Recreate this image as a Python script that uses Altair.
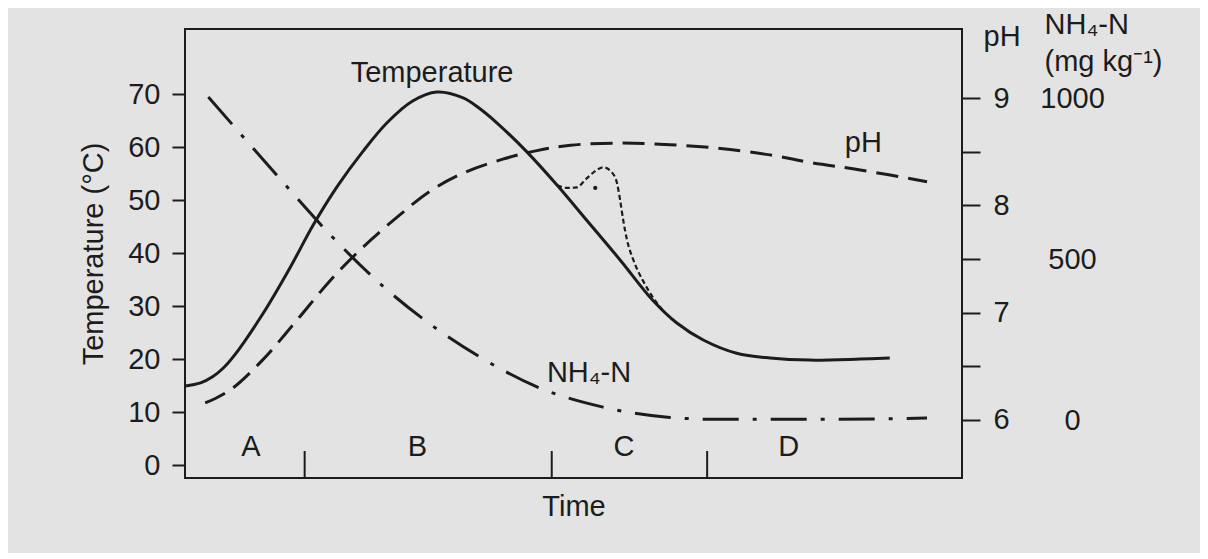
import altair as alt
import pandas as pd

FONT = "Liberation Sans"
INK = "#1c1c1c"
BG = "#e3e3e3"

# ---- data (time in arbitrary units 0-100) ----
temp_t = [0, 2.0, 3.6, 5.0, 6.2, 10.0, 13.5, 16.5, 19.6, 22.9, 26.0, 29.3, 32.4, 35.8, 38.0,
          40.2, 44.0, 47.9, 51.7, 56.0, 60.2, 63.3, 66.7, 71.0, 75.3, 80.4, 86.9, 90.7]
temp_v = [14.9, 15.5, 16.7, 18.4, 20.4, 28.5, 37.2, 45.3, 52.6, 59.2, 64.6, 68.7, 70.4, 69.3, 67.2,
          64.5, 59.1, 52.8, 46.2, 38.7, 31.1, 26.8, 23.6, 21.1, 20.2, 19.8, 20.0, 20.2]

loop_t = [47.9, 49.2, 50.4, 51.7, 53.0, 53.8, 54.9, 55.6, 56.0, 56.4, 56.9, 57.7, 58.9, 60.2, 61.5]
loop_v = [52.8, 52.3, 52.4, 54.1, 55.7, 56.2, 55.3, 53.2, 50.0, 46.2, 42.4, 38.7, 34.9, 31.7, 29.2]

dot_t = [52.8]
dot_v = [52.3]

ph_t = [2.6, 3.9, 6.2, 10.0, 14.4, 18.7, 22.9, 27.3, 31.5, 35.8, 40.9, 45.3, 49.6,
        56.0, 62.4, 68.9, 75.3, 80.4, 86.9, 95.5]
ph_v = [6.16, 6.20, 6.30, 6.56, 6.93, 7.30, 7.61, 7.89, 8.13, 8.30, 8.43, 8.51, 8.56,
        8.58, 8.565, 8.53, 8.47, 8.40, 8.33, 8.22]

nh4_t = [3.0, 7.1, 13.1, 19.1, 25.5, 32.4, 38.0, 45.3, 53.8, 62.4, 68.9, 82.6, 95.5]
nh4_v = [1003, 890, 725, 565, 415, 283, 195, 103, 40, 8, 2, 2, 6]

phase_bounds = [15.4, 47.2, 67.2]
phase_names = ["A", "B", "C", "D"]
phase_centers = [8.5, 29.9, 56.5, 77.7]
phase_label_level = 3.4

temp_ticks = [0, 10, 20, 30, 40, 50, 60, 70]
ph_ticks = [6, 6.5, 7, 7.5, 8, 8.5, 9]
nh4_ticks = [0, 500, 1000]

curve_label_text = ["Temperature"]
curve_label_t = [31.8]
curve_label_v = [74]
ph_label_t = [87.3]
ph_label_v = [8.58]
nh4_label_t = [52.0]
nh4_label_v = [146]

# ---- tables ----
df_temp = pd.DataFrame({"x": temp_t, "y": temp_v})
df_loop = pd.DataFrame({"x": loop_t, "y": loop_v})
df_dot = pd.DataFrame({"x": dot_t, "y": dot_v})
df_ph = pd.DataFrame({"x": ph_t, "y": ph_v})
df_nh4 = pd.DataFrame({"x": nh4_t, "y": nh4_v})
df_bounds = pd.DataFrame({"x": phase_bounds})
df_phase = pd.DataFrame({"x": phase_centers, "y": [phase_label_level] * 4, "label": phase_names})
df_tlab = pd.DataFrame({"x": curve_label_t, "y": curve_label_v, "label": curve_label_text})
df_phlab = pd.DataFrame({"x": ph_label_t, "y": ph_label_v, "label": ["pH"]})
df_nlab = pd.DataFrame({"x": nh4_label_t, "y": nh4_label_v, "label": ["NH₄-N"]})

W, H = 777, 449

x_enc = alt.X("x:Q", scale=alt.Scale(domain=[0, 100], nice=False, zero=False),
              axis=alt.Axis(title="Time", labels=False, ticks=False, domain=False, grid=False,
                            titlePadding=14))

temp_scale = alt.Scale(domain=[-2.45, 82.3], nice=False, zero=False)
temp_axis = alt.Axis(orient="left", values=temp_ticks, tickSize=13, tickWidth=2, tickColor=INK,
                     domain=False, grid=False, labelPadding=12, title="Temperature (°C)",
                     titlePadding=19)
y_temp = alt.Y("y:Q", scale=temp_scale, axis=temp_axis)

ph_scale = alt.Scale(domain=[5.4596, 9.6429], nice=False, zero=False)
ph_axis = alt.Axis(orient="right", values=ph_ticks, tickSize=18, tickWidth=2, tickColor=INK,
                   domain=False, grid=False, labelPadding=13, labelAlign="left",
                   labelExpr="datum.value % 1 == 0 ? format(datum.value, 'd') : ''",
                   title="pH", titleAngle=0, titleAlign="left", titleBaseline="alphabetic",
                   titleX=21, titleY=16)
y_ph = alt.Y("y:Q", scale=ph_scale, axis=ph_axis)

nh4_scale = alt.Scale(domain=[-180.1, 1214.3], nice=False, zero=False)
nh4_axis = alt.Axis(orient="right", offset=100, values=nh4_ticks, format="d", ticks=False,
                    tickSize=0, domain=False, grid=False, labelPadding=10, labelAlign="center",
                    title=["NH₄-N", "(mg kg⁻¹)"], titleAngle=0, titleAlign="left",
                    titleBaseline="alphabetic", titleX=-18, titleY=4, titleLineHeight=37)
y_nh4 = alt.Y("y:Q", scale=nh4_scale, axis=nh4_axis)

# ---- temperature group ----
t_line = alt.Chart(df_temp).mark_line(color=INK, strokeWidth=3, interpolate="catmull-rom").encode(
    x=x_enc, y=y_temp)
t_loop = alt.Chart(df_loop).mark_line(color=INK, strokeWidth=2.2, strokeDash=[5, 3],
                                      interpolate="monotone").encode(x=x_enc, y=y_temp)
t_dot = alt.Chart(df_dot).mark_circle(color=INK, size=18, opacity=1).encode(x=x_enc, y=y_temp)
t_rules = alt.Chart(df_bounds).mark_rule(color=INK, strokeWidth=2).encode(
    x=x_enc, y=alt.value(H), y2=alt.value(H - 27))
t_phase = alt.Chart(df_phase).mark_text(font=FONT, fontSize=29, color=INK, align="center",
                                        baseline="middle").encode(x=x_enc, y=y_temp, text="label:N")
t_label = alt.Chart(df_tlab).mark_text(font=FONT, fontSize=29, color=INK, align="center",
                                       baseline="middle").encode(x=x_enc, y=y_temp, text="label:N")
temp_group = alt.layer(t_line, t_loop, t_dot, t_rules, t_phase, t_label)

# ---- pH group ----
p_line = alt.Chart(df_ph).mark_line(color=INK, strokeWidth=3, strokeDash=[22, 10],
                                    interpolate="catmull-rom").encode(x=x_enc, y=y_ph)
p_label = alt.Chart(df_phlab).mark_text(font=FONT, fontSize=29, color=INK, align="center",
                                        baseline="middle").encode(x=x_enc, y=y_ph, text="label:N")
ph_group = alt.layer(p_line, p_label)

# ---- NH4 group ----
n_line = alt.Chart(df_nh4).mark_line(color=INK, strokeWidth=3, strokeDash=[36, 14, 4, 14],
                                     interpolate="monotone").encode(x=x_enc, y=y_nh4)
n_label = alt.Chart(df_nlab).mark_text(font=FONT, fontSize=29, color=INK, align="center",
                                       baseline="middle").encode(x=x_enc, y=y_nh4, text="label:N")
nh4_group = alt.layer(n_line, n_label)

chart = alt.layer(temp_group, ph_group, nh4_group).resolve_scale(y="independent").properties(
    width=W, height=H,
    autosize=alt.AutoSizeParams(type="none"),
    padding={"left": 177, "top": 21, "right": 238, "bottom": 75},
    background=BG,
).configure_view(stroke=INK, strokeWidth=2).configure_axis(
    labelFont=FONT, labelFontSize=29, labelColor=INK,
    titleFont=FONT, titleFontSize=29, titleColor=INK, titleFontWeight="normal",
)

chart.save("out.html", embed_options={"renderer": "svg", "actions": False})
